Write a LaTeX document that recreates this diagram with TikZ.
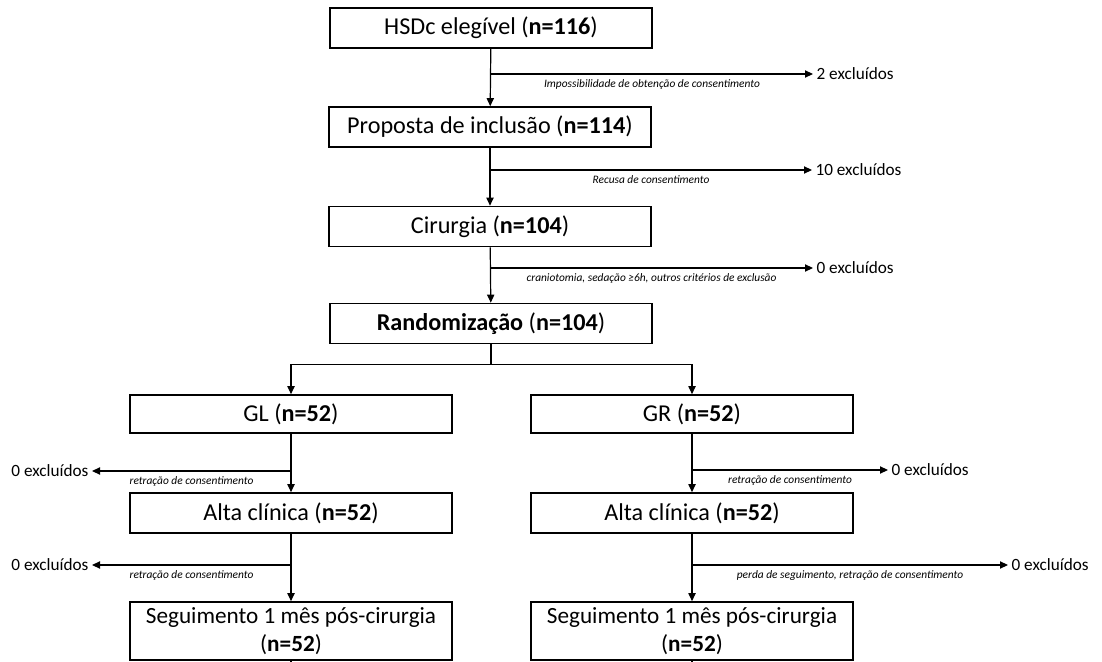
\documentclass[tikz,border=0pt]{standalone}
\usepackage{fontspec}
\setmainfont{Carlito}
\usetikzlibrary{arrows.meta}
\begin{document}
\begin{tikzpicture}[x=0.5pt, y=-0.5pt, line width=0.6pt, >={Triangle[length=4pt, width=3.6pt]},
    box/.style={draw, line width=0.8pt, minimum width=161pt, minimum height=20pt, inner sep=0pt, align=center, font=\fontsize{12.1}{14}\selectfont},
    excl/.style={inner sep=1.5pt, font=\fontsize{8.6}{10}\selectfont},
    why/.style={inner sep=2.5pt, font=\fontsize{5.7}{7}\selectfont\itshape}]
    \useasboundingbox (0,0) rectangle (1102,662);
    % Main column
    \node[box] (hsdc) at (491,28) {HSDc elegível (\textbf{n=116})};
    \node[box] (prop) at (490,127) {Proposta de inclusão (\textbf{n=114})};
    \node[box] (cir) at (490,226.5) {Cirurgia (\textbf{n=104})};
    \node[box] (rand) at (491,323.5) {\textbf{Randomização} (\textbf{n=104})};
    % Two arms
    \node[box, minimum height=19pt] (gl) at (291,414) {GL (\textbf{n=52})};
    \node[box, minimum height=19pt] (gr) at (692,414) {GR (\textbf{n=52})};
    \node[box] (altal) at (291,513) {Alta clínica (\textbf{n=52})};
    \node[box] (altar) at (692,513) {Alta clínica (\textbf{n=52})};
    \node[box, minimum height=29pt, font=\fontsize{11.6}{14}\selectfont] (segl) at (291,631) {Seguimento 1 mês pós-cirurgia\\(\textbf{n=52})};
    \node[box, minimum height=29pt, font=\fontsize{11.6}{14}\selectfont] (segr) at (692,631) {Seguimento 1 mês pós-cirurgia\\(\textbf{n=52})};
    % Excluded
    \node[excl, anchor=west] (ex1) at (813,74) {2 excluídos};
    \node[excl, anchor=west] (ex2) at (812,170) {10 excluídos};
    \node[excl, anchor=west] (ex3) at (813,268) {0 excluídos};
    \node[excl, anchor=east] (ex4) at (92,471) {0 excluídos};
    \node[excl, anchor=west] (ex5) at (888,470) {0 excluídos};
    \node[excl, anchor=east] (ex6) at (92,565) {0 excluídos};
    \node[excl, anchor=west] (ex7) at (1008,565) {0 excluídos};
    % Arrows down
    \draw[->] (hsdc) -- (prop);
    \draw[->] (prop) -- (cir);
    \draw[->] (cir) -- (rand);
    \draw (rand.south) -- ++(0,20) coordinate (split);
    \draw[->] (split) -| (gl.north);
    \draw[->] (split) -| (gr.north);
    \draw[->] (gl) -- (altal);
    \draw[->] (gr) -- (altar);
    \draw[->] (altal) -- (segl);
    \draw[->] (altar) -- (segr);
    \draw (segl.south) -- ++(0,10);
    \draw (segr.south) -- ++(0,10);
    % Arrows to the side
    \draw[->] (hsdc.south |- ex1.west) -- (ex1.west) node[why, midway, below] {Impossibilidade de obtenção de consentimento};
    \draw[->] (prop.south |- ex2.west) -- (ex2.west) node[why, midway, below] {Recusa de consentimento};
    \draw[->] (cir.south |- ex3.west) -- (ex3.west) node[why, midway, below] {craniotomia, sedação ≥6h, outros critérios de exclusão};
    \draw[->] (gl.south |- ex4.east) -- (ex4.east) node[why, midway, below] {retração de consentimento};
    \draw[->] (gr.south |- ex5.west) -- (ex5.west) node[why, midway, below] {retração de consentimento};
    \draw[->] (altal.south |- ex6.east) -- (ex6.east) node[why, midway, below] {retração de consentimento};
    \draw[->] (altar.south |- ex7.west) -- (ex7.west) node[why, midway, below] {perda de seguimento, retração de consentimento};
\end{tikzpicture}
\end{document}
